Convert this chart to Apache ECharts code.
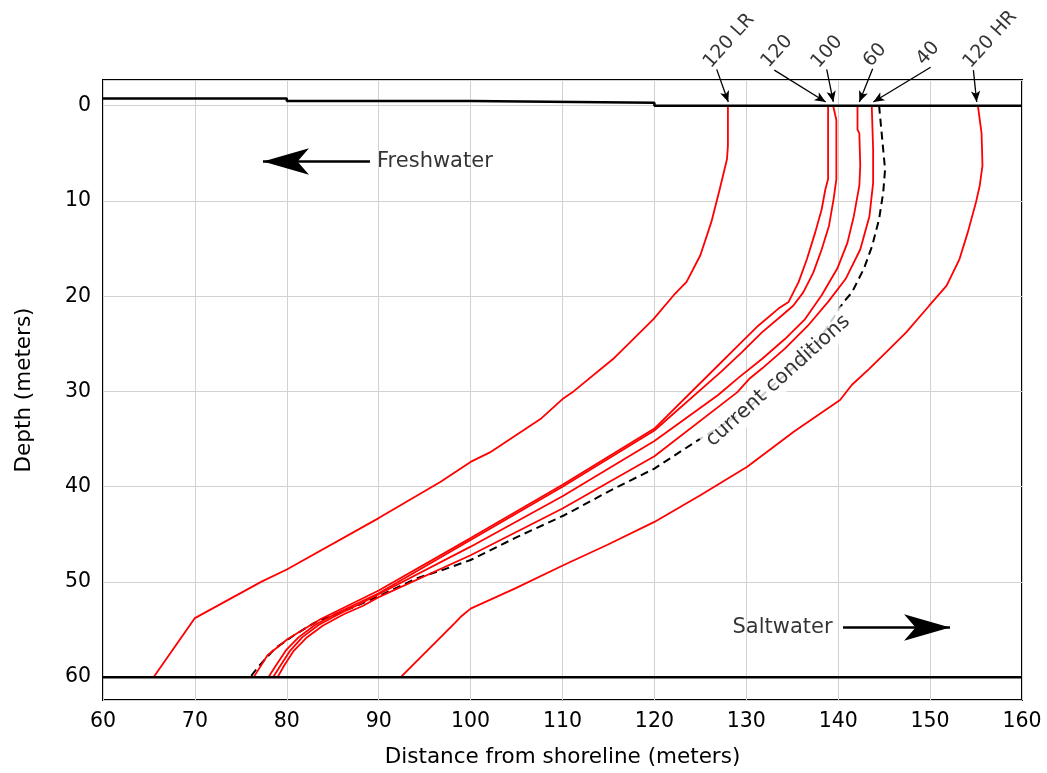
<!DOCTYPE html>
<html>
<head>
<meta charset="utf-8">
<title>Freshwater / saltwater interface</title>
<script src="https://cdn.jsdelivr.net/npm/echarts@6/dist/echarts.min.js"></script>
<style>
html, body { margin: 0; padding: 0; background: #fff; }
#chart { width: 1047px; height: 773px; }
</style>
</head>
<body>
<div id="chart"></div>
<script>
// interface curves: distance from shoreline (m) / depth (m)
var dist120LR = [128.0, 128.0, 127.9, 127.1, 126.2, 125.0, 123.5, 122.1, 119.9, 115.5, 111.2, 110, 107.6, 102.1, 100, 96.7, 90, 80, 77.2, 70, 65.5];
var depth120LR = [0, 4.2, 5.6, 8.8, 12.2, 15.7, 18.5, 19.9, 22.4, 26.6, 30, 30.8, 32.9, 36.4, 37.4, 39.5, 43.3, 48.7, 50, 53.8, 60];

var dist120 = [138.9, 138.9, 138.6, 138.2, 137.5, 136.6, 135.7, 134.6, 133.5, 131.3, 129.1, 127.0, 120, 110, 100, 90, 83.7, 82.3, 80.1, 77.9, 76.4];
var depth120 = [0, 7.7, 8.8, 10.9, 13.3, 16.1, 18.5, 20.6, 21.3, 23.1, 25.2, 27.2, 33.9, 39.8, 45.4, 50.9, 53.9, 54.7, 56.0, 57.7, 60];

var dist100 = [139.45, 139.8, 139.8, 139.5, 139.0, 138.2, 137.3, 136.2, 135.1, 133.9, 131.7, 129.5, 127.3, 120, 110, 100, 90, 87.6, 85.4, 83.1, 81.3, 79.9, 78.8, 78.0];
var depth100 = [0, 1.5, 7.7, 9.8, 12.6, 15.1, 17.5, 19.6, 21.0, 22.0, 23.8, 25.9, 27.9, 34.1, 40.0, 45.6, 51.2, 52.3, 53.3, 54.5, 55.8, 57.2, 58.8, 60];

var dist60 = [142.1, 142.1, 142.3, 142.4, 142.3, 141.7, 141.0, 139.9, 138.2, 136.4, 134.2, 131.7, 129.1, 126.9, 120, 110, 100, 90, 88.0, 85.8, 83.5, 81.7, 80.3, 79.3, 78.5];
var depth60 = [0, 2.5, 2.9, 6.3, 8.4, 11.6, 14.4, 17.1, 19.9, 22.4, 24.5, 26.6, 28.6, 30.4, 35.2, 41.0, 46.3, 51.3, 52.3, 53.3, 54.5, 55.8, 57.3, 58.8, 60];

var dist40 = [143.65, 143.8, 143.8, 143.4, 142.4, 140.8, 138.9, 136.7, 134.2, 131.7, 130.3, 129.0, 120, 110, 100, 90, 88.3, 86.2, 83.9, 82.1, 80.7, 79.7, 79.0];
var depth40 = [0, 4.6, 8.1, 11.6, 15.1, 18.2, 20.6, 23.1, 25.5, 27.6, 28.7, 30.1, 36.8, 42.3, 47.2, 51.6, 52.5, 53.4, 54.6, 55.9, 57.3, 58.8, 60];

var dist120HR = [155.2, 155.6, 155.7, 155.4, 155.0, 154.1, 153.2, 151.8, 149.9, 147.4, 145.2, 143.4, 141.5, 140.2, 135.2, 130.1, 125.0, 120.0, 114.9, 110.2, 104.8, 100, 99.0, 98.3, 92.4];
var depth120HR = [0, 2.9, 6.3, 8.4, 10.1, 13.3, 16.1, 18.9, 21.0, 23.8, 25.9, 27.6, 29.3, 30.9, 34.2, 37.9, 40.9, 43.7, 46.1, 48.2, 50.7, 52.8, 53.6, 54.3, 60];

var distNow = [144.45, 144.8, 145.1, 144.9, 144.45, 143.7, 142.8, 141.5, 140.6, 137.1, 133.45, 129.8, 124.3, 120, 115.6, 110.2, 104.8, 100, 96.8, 94.2, 90, 87.4, 84.5, 83.0, 80.8, 78.7, 76.9, 76.1];
var depthNow = [0, 3.6, 6.7, 9.1, 11.9, 14.7, 17.1, 19.6, 20.6, 25.8, 28.9, 32.1, 35.4, 38.1, 40.2, 43.0, 45.4, 47.7, 48.8, 49.6, 51.5, 52.6, 53.7, 54.3, 55.6, 57.0, 58.9, 59.9];

// model boundaries: stepped sea floor on top, bottom of the model at 60 m
var distTop = [60, 80, 80, 100, 100, 120, 120, 160];
var depthTop = [-0.75, -0.75, -0.5, -0.5, -0.3, -0.3, 0, 0];
var distBottom = [60, 160];
var depthBottom = [60, 60];

// scenario tags above the frame and their arrows (arrow tips touch the curve tops)
var tagNames = ['120 LR', '120', '100', '60', '40', '120 HR'];
var tagX = [125.72, 132.03, 137.47, 143.13, 148.9, 154.01];
var tagY = [-4.22, -4.27, -4.22, -4.36, -4.53, -4.22];
var arrowFromX = [126.78, 133.05, 138.75, 143.75, 150.06, 154.71];
var arrowFromY = [-3.81, -3.73, -3.80, -3.87, -4.04, -3.73];
var arrowToX = [128.04, 138.64, 139.47, 142.30, 143.82, 155.07];
var arrowToY = [-0.4, -0.4, -0.4, -0.4, -0.4, -0.4];

// Freshwater / Saltwater notes
var noteNames = ['Freshwater', 'Saltwater'];
var noteX = [89.82, 128.5];
var noteY = [5.83, 54.6];
var bigFromX = [89.05, 140.52];
var bigToX = [77.41, 152.17];
var bigY = [5.83, 54.6];

var xTicks = [60, 70, 80, 90, 100, 110, 120, 130, 140, 150, 160];

var FONT = 'DejaVu Sans';
var INK = '#000';
var H = 773, gridT = 80, gridB = 71, gridL = 103, gridR = 25;
var depthMin = -2.7, depthMax = 62.4;
// invisible second grid, same scale, reaching the top of the canvas
var depthMin2 = depthMax - (H - gridB) * (depthMax - depthMin) / (H - gridT - gridB);

function pairs(xs, ys) {
    return xs.map(function (x, i) { return [x, ys[i]]; });
}

function redCurve(name, xs, ys) {
    return {
        type: 'line', name: name, data: pairs(xs, ys),
        symbol: 'none', silent: true, z: 4,
        lineStyle: { color: '#ff0000', width: 1.8 }
    };
}

var chart = echarts.init(document.getElementById('chart'));

chart.setOption({
    animation: false,
    backgroundColor: '#fff',
    textStyle: { fontFamily: FONT },
    grid: [
        { left: gridL, right: gridR, top: gridT, bottom: gridB, show: true, borderColor: '#000', borderWidth: 2 },
        { left: gridL, right: gridR, top: 0, bottom: gridB, show: false }
    ],
    xAxis: [{
        type: 'value', gridIndex: 0, min: xTicks[0], max: xTicks[xTicks.length - 1], interval: 10,
        name: 'Distance from shoreline (meters)', nameLocation: 'middle', nameGap: 46,
        nameTextStyle: { fontFamily: FONT, fontSize: 21.5, color: INK },
        axisLine: { show: false }, axisTick: { show: false },
        axisLabel: { fontFamily: FONT, fontSize: 20.5, color: INK, margin: 11 },
        splitLine: { show: true, lineStyle: { color: '#d2d2d2', width: 1 } }
    }, {
        type: 'value', gridIndex: 1, min: xTicks[0], max: xTicks[xTicks.length - 1], show: false
    }],
    yAxis: [{
        type: 'value', gridIndex: 0, inverse: true, min: depthMin, max: depthMax,
        name: 'Depth (meters)', nameLocation: 'middle', nameGap: 68, nameRotate: 90,
        nameTextStyle: { fontFamily: FONT, fontSize: 21.5, color: INK },
        axisLine: { show: false }, axisTick: { show: false },
        axisLabel: {
            fontFamily: FONT, fontSize: 20.5, color: INK, margin: 12,
            formatter: function (v) { return Math.abs(v % 10) < 1e-6 ? String(v) : ''; }
        },
        splitLine: { show: true, lineStyle: { color: '#d2d2d2', width: 1 } }
    }, {
        type: 'value', gridIndex: 1, inverse: true, min: depthMin2, max: depthMax, show: false
    }],
    series: [
        {
            type: 'line', name: 'current conditions', data: pairs(distNow, depthNow),
            symbol: 'none', silent: true, z: 2,
            lineStyle: { color: '#000', width: 2, type: [8, 5] }
        },
        {
            // label written along the dashed curve, white box hides line under it
            type: 'scatter', symbolSize: 0, silent: true, z: 3,
            data: [{ name: 'current conditions', value: [133.45, 28.9] }],
            label: {
                show: true, position: 'inside', formatter: '{b}', rotate: 42,
                align: 'center', verticalAlign: 'middle',
                fontFamily: FONT, fontSize: 20.5, color: INK,
                backgroundColor: '#fff', padding: [3, 4]
            }
        },
        redCurve('120 LR', dist120LR, depth120LR),
        redCurve('120', dist120, depth120),
        redCurve('100', dist100, depth100),
        redCurve('60', dist60, depth60),
        redCurve('40', dist40, depth40),
        redCurve('120 HR', dist120HR, depth120HR),
        {
            type: 'line', data: pairs(distTop, depthTop), symbol: 'none', silent: true, z: 5,
            lineStyle: { color: '#000', width: 2.5 }
        },
        {
            type: 'line', data: pairs(distBottom, depthBottom), symbol: 'none', silent: true, z: 5,
            lineStyle: { color: '#000', width: 2.5 }
        },
        {
            type: 'scatter', xAxisIndex: 1, yAxisIndex: 1, symbolSize: 0, silent: true, z: 6,
            data: tagNames.map(function (n, i) { return { name: n, value: [tagX[i], tagY[i]] }; }),
            label: {
                show: true, position: 'inside', formatter: '{b}', rotate: 48,
                align: 'left', verticalAlign: 'middle',
                fontFamily: FONT, fontSize: 19, color: INK
            }
        },
        {
            type: 'scatter', xAxisIndex: 1, yAxisIndex: 1, symbolSize: 0, silent: true, z: 6,
            data: noteNames.map(function (n, i) { return { name: n, value: [noteX[i], noteY[i]] }; }),
            label: {
                show: true, position: 'inside', formatter: '{b}',
                align: 'left', verticalAlign: 'middle',
                fontFamily: FONT, fontSize: 21, color: INK
            }
        },
        {
            type: 'line', xAxisIndex: 1, yAxisIndex: 1, data: [], z: 6,
            markLine: {
                silent: true, animation: false,
                symbol: ['none', 'arrow'], symbolSize: [7, 11],
                label: { show: false },
                lineStyle: { color: '#000', width: 1.3, type: 'solid' },
                emphasis: { disabled: true },
                data: arrowFromX.map(function (x, i) {
                    return [{ coord: [x, arrowFromY[i]] }, { coord: [arrowToX[i], arrowToY[i]] }];
                })
            }
        },
        {
            type: 'line', xAxisIndex: 1, yAxisIndex: 1, data: [], z: 6,
            markLine: {
                silent: true, animation: false,
                symbol: ['none', 'arrow'], symbolSize: [20, 46],
                label: { show: false },
                lineStyle: { color: '#000', width: 2.5, type: 'solid' },
                emphasis: { disabled: true },
                data: bigFromX.map(function (x, i) {
                    return [{ coord: [x, bigY[i]] }, { coord: [bigToX[i], bigY[i]] }];
                })
            }
        }
    ]
});

window.addEventListener('resize', function () { chart.resize(); });
</script>
</body>
</html>
